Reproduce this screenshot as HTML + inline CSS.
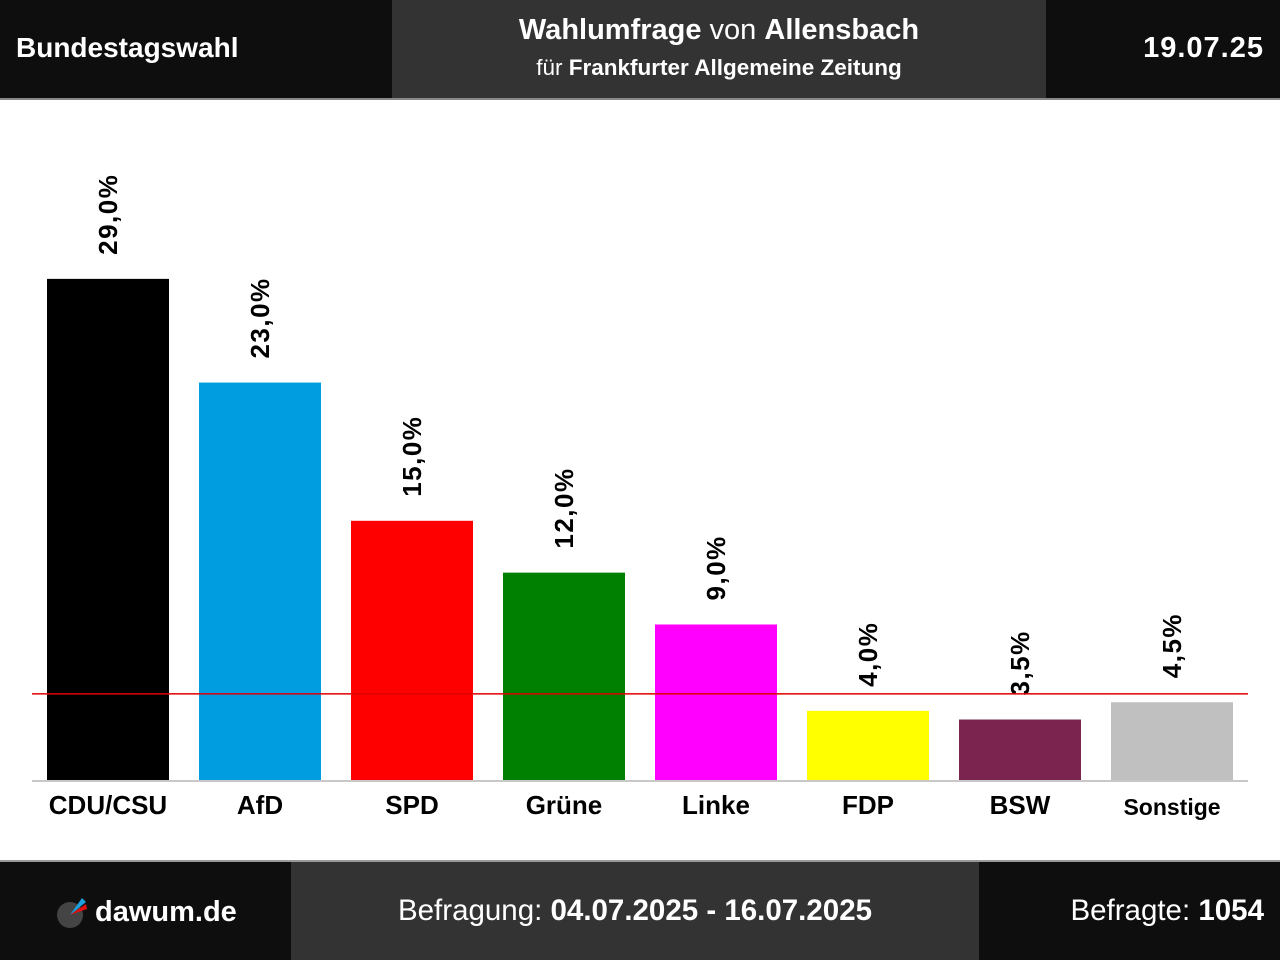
<!DOCTYPE html>
<html><head><meta charset="utf-8"><style>
body{margin:0;width:1280px;height:960px;overflow:hidden;background:#fff;font-family:"Liberation Sans",sans-serif;position:relative}
.blk{position:absolute;color:#fff;box-sizing:border-box}
</style></head><body>
<div style="position:absolute;left:0;top:0;width:1280px;height:98px;background:#0e0e0e"></div>
<div style="position:absolute;left:0;top:98px;width:1280px;height:2px;background:#888"></div>
<div class="blk" style="left:16px;top:32px;font-size:28px;font-weight:bold">Bundestagswahl</div>
<div class="blk" style="left:392px;top:0;width:654px;height:98px;background:#333;text-align:center">
 <div style="margin-top:14px;font-size:29px"><b>Wahlumfrage</b> von <b>Allensbach</b></div>
 <div style="margin-top:8px;font-size:22.5px">für <b>Frankfurter Allgemeine Zeitung</b></div>
</div>
<div class="blk" style="right:16px;top:32px;font-size:29px;font-weight:bold;letter-spacing:1px">19.07.25</div>

<svg id="chart" width="1280" height="860" style="position:absolute;left:0;top:0"></svg>

<div style="position:absolute;left:0;top:860px;width:1280px;height:2px;background:#999"></div>
<div style="position:absolute;left:0;top:862px;width:1280px;height:98px;background:#0e0e0e"></div>
<div class="blk" style="left:291px;top:862px;width:688px;height:98px;background:#333;text-align:center;font-size:29.5px;padding-top:32px">Befragung: <b>04.07.2025 - 16.07.2025</b></div>
<div class="blk" style="right:16px;top:894px;font-size:29.5px">Befragte: <b>1054</b></div>
<div class="blk" style="left:56px;top:896px;font-size:29px;font-weight:bold">
 <svg width="34" height="34" style="position:absolute;left:0;top:0">
  <circle cx="14" cy="19" r="13" fill="#444"/>
  <polygon points="14,19 26,2 30,6" fill="#1ca0e0"/>
  <polygon points="14,19 30,8 31,13" fill="#e01010"/>
 </svg>
 <span style="margin-left:39px">dawum.de</span>
</div>

<script>
const parties=["CDU/CSU","AfD","SPD","Grüne","Linke","FDP","BSW","Sonstige"];
const values=[29.0,23.0,15.0,12.0,9.0,4.0,3.5,4.5];
const colors=["#000000","#009ee0","#ff0000","#008000","#ff00ff","#ffff00","#7b2450","#c0c0c0"];
const threshold=5;
const svg=document.getElementById('chart');
const NS='http://www.w3.org/2000/svg';
const base=780, scale=17.28, x0=47, pitch=152, bw=122;
const y=v=>base-v*scale;
const x=i=>x0+i*pitch;
function mk(t,a){const e=document.createElementNS(NS,t);for(const k in a)e.setAttribute(k,a[k]);svg.appendChild(e);return e;}
values.forEach((v,i)=>{
 const r=mk('rect',{x:x(i),y:y(v),width:bw,height:v*scale,fill:colors[i]});
 
 
 const cx=x(i)+bw/2, ty=y(v)-24;
 const t=mk('text',{x:cx+9,y:ty,transform:`rotate(-90 ${cx+9} ${ty})`,'font-size':26,'font-weight':'bold','letter-spacing':1.5,fill:'#000'});
 t.textContent=v.toFixed(1).replace('.',',')+'%';
 
 
 const c=mk('text',{x:cx,y:parties[i]==='Sonstige'?815:814,'text-anchor':'middle','font-size':parties[i]==='Sonstige'?23:26,'font-weight':'bold',fill:'#000'});
 c.textContent=parties[i];
 
 
});
const bl=mk('rect',{x:32,y:base,width:1216,height:2,fill:'#c8c8c8'});


const th=mk('rect',{x:32,y:y(threshold)-0.5,width:1216,height:1.5,fill:'#e00000'});


</script>
</body></html>
